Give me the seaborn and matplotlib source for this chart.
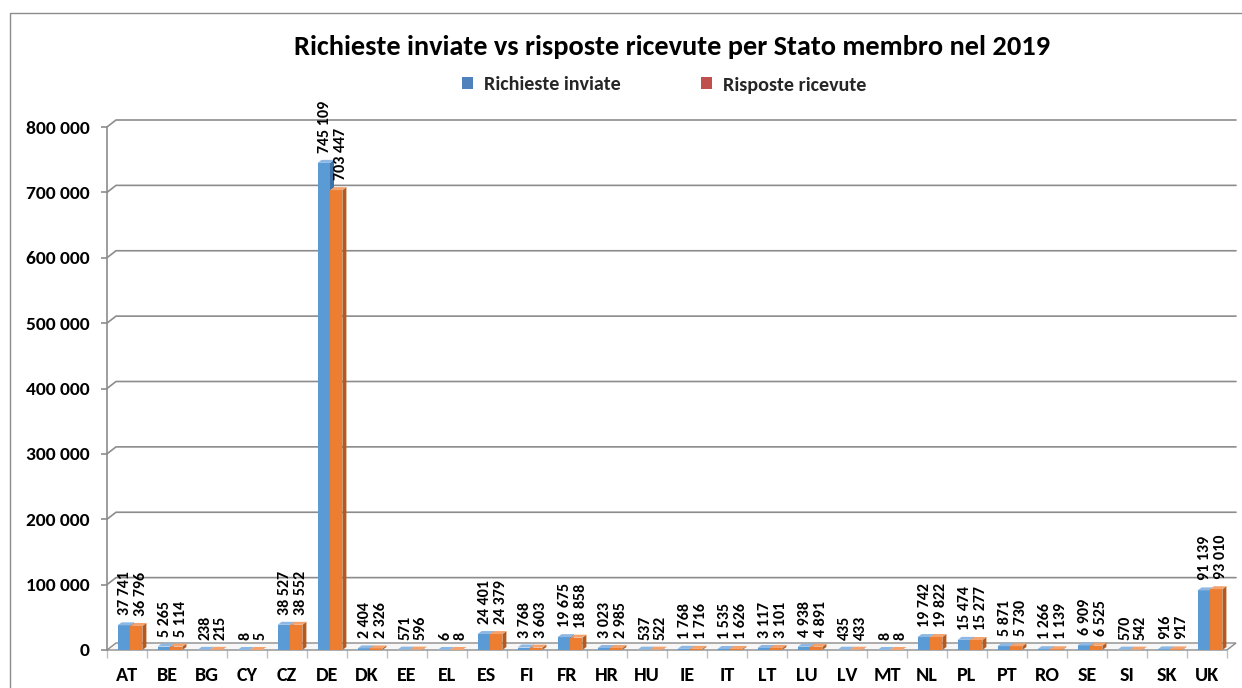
import matplotlib
matplotlib.use("Agg")
import matplotlib.pyplot as plt
from matplotlib.patches import Polygon, Patch, Rectangle
from matplotlib.lines import Line2D
import seaborn as sns
import pandas as pd

# Requests sent vs answers received, per Member State, 2019
stati = ["AT", "BE", "BG", "CY", "CZ", "DE", "DK", "EE", "EL", "ES", "FI", "FR", "HR", "HU",
         "IE", "IT", "LT", "LU", "LV", "MT", "NL", "PL", "PT", "RO", "SE", "SI", "SK", "UK"]
richieste_inviate = [37741, 5265, 238, 8, 38527, 745109, 2404, 571, 6, 24401, 3768, 19675, 3023, 537,
                     1768, 1535, 3117, 4938, 435, 8, 19742, 15474, 5871, 1266, 6909, 570, 916, 91139]
risposte_ricevute = [36796, 5114, 215, 5, 38552, 703447, 2326, 596, 8, 24379, 3603, 18858, 2985, 522,
                     1716, 1626, 3101, 4891, 433, 8, 19822, 15277, 5730, 1139, 6525, 542, 917, 93010]
serie = ["Richieste inviate", "Risposte ricevute"]
y_ticks = [0, 100000, 200000, 300000, 400000, 500000, 600000, 700000, 800000]

titolo = "Richieste inviate vs risposte ricevute per Stato membro nel 2019"

df = pd.DataFrame({
    "Stato": stati * 2,
    "Valore": richieste_inviate + risposte_ricevute,
    "Serie": [serie[0]] * len(stati) + [serie[1]] * len(stati),
})

sns.set_theme(style="white")
plt.rcParams["font.family"] = ["Carlito", "DejaVu Sans"]


def fmt(v):
    return f"{v:,}".replace(",", " ")


W, H = 1242, 688
fig = plt.figure(figsize=(W / 100, H / 100), dpi=100)
ax_l, ax_r, ax_b, ax_t = 107, 1227, 650, 127
ax = fig.add_axes([ax_l / W, (H - ax_b) / H, (ax_r - ax_l) / W, (ax_b - ax_t) / H])

bar_front = ["#5B9BD5", "#ED7D31"]
bar_side = ["#3F73A6", "#B45A1E"]
bar_top = ["#8DB8E3", "#F4A36E"]
grid_col = "#8C8C8C"

sns.barplot(data=df, x="Stato", y="Valore", hue="Serie", palette=bar_front,
            saturation=1, width=0.62, legend=False, ax=ax, zorder=3)

ax.set_xlim(-0.5, len(stati) - 0.5)
ax.set_ylim(0, 800000)

# pixel -> data conversions
px_x = len(stati) / (ax_r - ax_l)
px_y = 800000 / (ax_b - ax_t)

# back wall and floor (pseudo 3D)
wall_dx, wall_dy = 9 * px_x, 7 * px_y
x0, x1 = -0.5, len(stati) - 0.5
floor = Polygon([(x0, 0), (x0 + wall_dx, wall_dy), (x1 + wall_dx, wall_dy), (x1, 0)],
                closed=True, facecolor="#F7F7F7", edgecolor=grid_col, lw=1.0,
                zorder=1, clip_on=False)
ax.add_patch(floor)
for v in y_ticks[1:]:
    ax.add_line(Line2D([x0, x0 + wall_dx, x1 + wall_dx], [v, v + wall_dy, v + wall_dy],
                       color=grid_col, lw=1.2, zorder=1, clip_on=False))

# 3D faces for each bar, plus value labels
bar_dx, bar_dy = 4 * px_x, 3 * px_y
shift = 3 * px_x
label_dx = [1.5, 4.5]
for k, cont in enumerate(ax.containers):
    vals = richieste_inviate if k == 0 else risposte_ricevute
    for patch, v in zip(cont.patches, vals):
        patch.set_x(patch.get_x() + shift)
        patch.set_zorder(3 + 2 * k)
        patch.set_edgecolor("none")
        x, w, h = patch.get_x(), patch.get_width(), patch.get_height()
        side = Polygon([(x + w, 0), (x + w + bar_dx, bar_dy), (x + w + bar_dx, h + bar_dy), (x + w, h)],
                       closed=True, facecolor=bar_side[k], edgecolor="none", zorder=3 + 2 * k)
        top = Polygon([(x, h), (x + bar_dx, h + bar_dy), (x + w + bar_dx, h + bar_dy), (x + w, h)],
                      closed=True, facecolor=bar_top[k], edgecolor="none", zorder=3 + 2 * k)
        ax.add_patch(side)
        ax.add_patch(top)
        ax.annotate(fmt(v), (x + w / 2, h), xytext=(label_dx[k], 10),
                    textcoords="offset pixels", rotation=90, ha="center", va="bottom",
                    fontsize=11.5, fontweight="bold", color="black", zorder=10,
                    annotation_clip=False)

# axes styling
for s in ["top", "right", "bottom"]:
    ax.spines[s].set_visible(False)
ax.spines["left"].set_color(grid_col)
ax.spines["left"].set_linewidth(1.2)
ax.set_xlabel("")
ax.set_ylabel("")
ax.set_yticks(y_ticks)
ax.set_yticklabels([fmt(v) for v in y_ticks], fontsize=14, fontweight="bold", color="black")
ax.tick_params(axis="y", length=4.5, width=1.2, color=grid_col, pad=8, left=True)
ax.set_xticks(range(len(stati)))
ax.set_xticklabels(stati, fontsize=14.5, fontweight="bold", color="black")
ax.set_xticks([i - 0.5 for i in range(len(stati) + 1)], minor=True)
ax.tick_params(axis="x", which="major", length=0, pad=12)
ax.tick_params(axis="x", which="minor", length=6, width=1.0, color="#BFBFBF", bottom=True)
ax.set_facecolor("none")

# title and legend
fig.text(672 / W, 1 - 47 / H, titolo, ha="center", va="center", fontsize=20.4,
         fontweight="bold", color="black")
handles = [Patch(facecolor="#4F81BD", edgecolor="none"), Patch(facecolor="#C0504D", edgecolor="none")]
fig.legend(handles, serie, loc="center", bbox_to_anchor=(664 / W, 1 - 85 / H), ncol=2,
           frameon=False, prop={"size": 14.5, "weight": "bold"}, handlelength=0.55,
           handleheight=0.55, handletextpad=0.55, columnspacing=4.0)

# outer chart frame
fig.add_artist(Rectangle((10 / W, -0.05), 1.1, 1 - 13 / H + 0.05, transform=fig.transFigure,
                         facecolor="none", edgecolor="#8C8C8C", lw=1.0))

fig.savefig("out.png", dpi=100)
